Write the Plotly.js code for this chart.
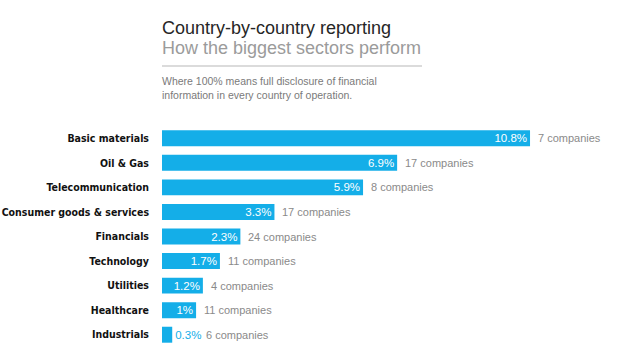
<!DOCTYPE html>
<html><head><meta charset="utf-8">
<script src="https://cdn.plot.ly/plotly-3.0.1.min.js"></script>
<style>html,body{margin:0;padding:0;background:#fff}#chart{width:620px;height:355px}</style>
</head><body><div id="chart"></div>
<script>
const sectors = ["Basic materials","Oil & Gas","Telecommunication","Consumer goods & services","Financials","Technology","Utilities","Healthcare","Industrials"];
const disclosure = [10.8, 6.9, 5.9, 3.3, 2.3, 1.7, 1.2, 1, 0.3];
const companies = [7, 17, 8, 17, 24, 11, 4, 11, 6];
const titleText = "Country-by-country reporting";
const subtitleText = "How the biggest sectors perform";
const noteText = "Where 100% means full disclosure of financial<br>information in every country of operation.";

const W = 620, H = 355;
const mL = 162, mR = 15, mT = 126, mB = 8;
const plotH = H - mT - mB;
const py = px => (H - mB - px) / plotH;
const blue = "#14aee8";
const condensed = "DejaVu Sans Condensed, Liberation Sans Narrow, Arial Narrow, sans-serif";

const positions = disclosure.map(v => v < 0.5 ? "outside" : "inside");

const trace = {
  type: "bar", orientation: "h",
  y: sectors, x: disclosure,
  marker: {color: blue},
  text: disclosure.map(v => v + "%"),
  texttemplate: "%{text}",
  textposition: positions,
  insidetextanchor: "end",
  insidetextfont: {color: "#ffffff", size: 11.5, family: "Liberation Sans, Arial, sans-serif"},
  outsidetextfont: {color: blue, size: 11.5, family: "Liberation Sans, Arial, sans-serif"},
  textangle: 0,
  constraintext: "none",
  cliponaxis: false,
  hoverinfo: "skip"
};

const annotations = sectors.map((s, i) => ({
  x: disclosure[i], y: s, xref: "x", yref: "y",
  text: companies[i] + " companies",
  showarrow: false, xanchor: "left", yanchor: "middle",
  xshift: positions[i] === "outside" ? 32 : 6,
  font: {size: 11, color: "#8a8a8a", family: "Liberation Sans, Arial, sans-serif"}
}));

annotations.push(
  {xref: "paper", yref: "paper", x: 0, y: py(28), xanchor: "left", yanchor: "middle", showarrow: false, xshift: -2,
   text: titleText, font: {size: 18, color: "#262626", family: "Liberation Sans, Arial, sans-serif"}},
  {xref: "paper", yref: "paper", x: 0, y: py(48), xanchor: "left", yanchor: "middle", showarrow: false, xshift: -2,
   text: subtitleText, font: {size: 18, color: "#9b9b9b", family: "Liberation Sans, Arial, sans-serif"}},
  {xref: "paper", yref: "paper", x: 0, y: py(73), xanchor: "left", yanchor: "top", showarrow: false, xshift: -2, align: "left",
   text: noteText, font: {size: 10.5, color: "#7a7a7a", family: "Liberation Sans, Arial, sans-serif"}}
);

const layout = {
  width: W, height: H,
  margin: {l: mL, r: mR, t: mT, b: mB},
  paper_bgcolor: "#fff", plot_bgcolor: "#fff",
  showlegend: false,
  bargap: 0.35,
  xaxis: {range: [0, 13], visible: false, fixedrange: true},
  yaxis: {type: "category", categoryorder: "array", categoryarray: sectors, range: [8.5, -0.5],
          showgrid: false, zeroline: false, showline: false, ticks: "", ticklabelstandoff: 12,
          tickfont: {size: 10.5, color: "#111", family: condensed, weight: "bold"},
          fixedrange: true},
  annotations: annotations,
  shapes: [{type: "line", xref: "paper", yref: "paper", x0: 0, x1: (422 - mL) / (W - mL - mR), y0: py(66), y1: py(66),
            line: {color: "#cfcfcf", width: 1.5}}]
};

Plotly.newPlot("chart", [trace], layout, {displayModeBar: false, staticPlot: true});
</script></body></html>
